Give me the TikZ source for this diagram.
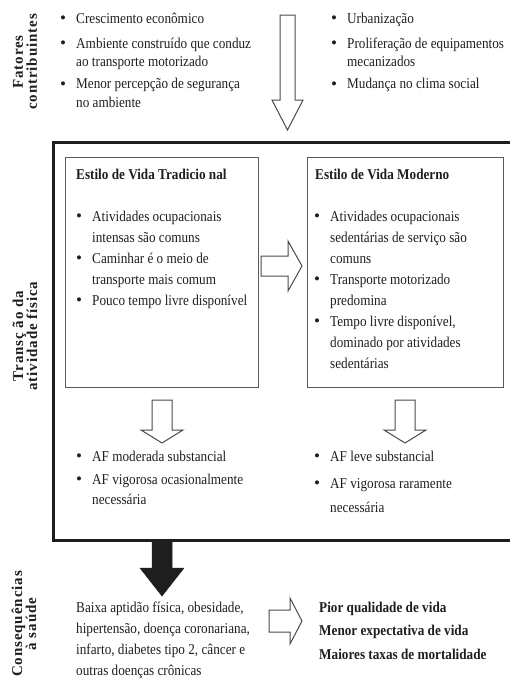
\documentclass[tikz,border=0pt]{standalone}
\usepackage{fontspec}
\setmainfont[FakeStretch=0.88]{Liberation Serif}
\newfontfamily\sidefont[LetterSpace=6]{Liberation Serif}
\newfontfamily\bulfont{Liberation Serif}
\definecolor{ink}{HTML}{1E1E1E}
\definecolor{lineg}{HTML}{4A4A4A}
\definecolor{boxg}{HTML}{5A5A5A}
\newenvironment{blist}{\begin{tabular}[t]{@{}p{16pt}@{}l@{}}}{\end{tabular}}
\newenvironment{plain}{\begin{tabular}[t]{@{}l@{}}}{\end{tabular}}
\newcommand\bul{{\bulfont\fontsize{17}{17}\selectfont\raisebox{-0.5pt}{\textbullet}}}
\tikzset{
  txt/.style={inner sep=0pt, anchor=base west, text=ink},
  sidelab/.style={inner sep=0pt, rotate=90, align=center, text=ink,
    font=\sidefont\bfseries\fontsize{15}{14}\selectfont},
  bigbox/.style={draw=ink, line width=3pt},
  innerbox/.style={draw=boxg, line width=0.9pt},
  hollow/.style={draw=lineg, line width=1pt, fill=white, line join=miter},
  solid/.style={fill=ink, draw=ink, line width=0.5pt},
}
\begin{document}
\begin{tikzpicture}[x=1pt,y=-1pt]
\useasboundingbox (0,0) rectangle (509,683);

% side labels
\node[sidelab] (lab1) at (25,62) {Fatores\\contribuintes};
\node[sidelab] (lab2) at (25,336) {Transç ão da\\atividade física};
\node[sidelab] (lab3) at (24,624) {Consequências\\à saúde};

% top factors
\node[txt, font=\fontsize{15}{18.5}\selectfont] (tl) at (60,23) {\begin{blist}
\bul & Crescimento econômico\\[6.5pt]
\bul & Ambiente construído que conduz\\
     & ao transporte motorizado\\[3.5pt]
\bul & Menor percepção de segurança\\
     & no ambiente
\end{blist}};
\node[txt, font=\fontsize{15}{18.5}\selectfont] (tr) at (331,23) {\begin{blist}
\bul & Urbanização\\[6.5pt]
\bul & Proliferação de equipamentos\\
     & mecanizados\\[3.5pt]
\bul & Mudança no clima social
\end{blist}};

% top hollow down arrow
\draw[hollow] (280,15) -- (295,15) -- (295,100) -- (303,100) -- (287.5,130)
  -- (272,100) -- (280,100) -- cycle;

% big frame
\draw[bigbox] (515,142) -- (53,142) -- (53,540) -- (515,540);

% inner boxes
\draw[innerbox] (65,157) rectangle (258,387);
\draw[innerbox] (307,157) rectangle (503,387);

\node[txt, font=\bfseries\fontsize{15}{20}\selectfont] (t1) at (76,179) {Estilo de Vida Tradicio nal};
\node[txt, font=\fontsize{15}{21}\selectfont] (l1) at (76,221) {\begin{blist}
\bul & Atividades ocupacionais\\
     & intensas são comuns\\
\bul & Caminhar é o meio de\\
     & transporte mais comum\\
\bul & Pouco tempo livre disponível
\end{blist}};

\node[txt, font=\bfseries\fontsize{15}{20}\selectfont] (t2) at (315,179) {Estilo de Vida Moderno};
\node[txt, font=\fontsize{15}{21}\selectfont] (l2) at (314,221) {\begin{blist}
\bul & Atividades ocupacionais\\
     & sedentárias de serviço são\\
     & comuns\\
\bul & Transporte motorizado\\
     & predomina\\
\bul & Tempo livre disponível,\\
     & dominado por atividades\\
     & sedentárias
\end{blist}};

% middle right arrow
\draw[hollow] (261,256) -- (288,256) -- (288,241) -- (302,266) -- (288,291)
  -- (288,276) -- (261,276) -- cycle;

% down arrows below boxes
\draw[hollow] (152,400) -- (172,400) -- (172,430) -- (183,430) -- (162,443)
  -- (141,430) -- (152,430) -- cycle;
\draw[hollow] (395,400) -- (415,400) -- (415,430) -- (426,430) -- (405,443)
  -- (384,430) -- (395,430) -- cycle;

\node[txt, font=\fontsize{15}{20.5}\selectfont] (pa1) at (76,461) {\begin{blist}
\bul & AF moderada substancial\\[2.5pt]
\bul & AF vigorosa ocasionalmente\\
     & necessária
\end{blist}};
\node[txt, font=\fontsize{15}{24}\selectfont] (pa2) at (314,461) {\begin{blist}
\bul & AF leve substancial\\[3pt]
\bul & AF vigorosa raramente\\
     & necessária
\end{blist}};

% black arrow
\draw[solid] (152,541) -- (172,541) -- (172,568) -- (184,568) -- (162,596)
  -- (140,568) -- (152,568) -- cycle;

% consequences
\node[txt, font=\fontsize{15}{21}\selectfont] (cons) at (76,612) {\begin{plain}
Baixa aptidão física, obesidade,\\hipertensão, doença coronariana,\\infarto, diabetes tipo 2, câncer e\\outras doenças crônicas
\end{plain}};

\draw[hollow] (269,610) -- (290,610) -- (290,598) -- (302,621) -- (290,644)
  -- (290,632) -- (269,632) -- cycle;

\node[txt, font=\bfseries\fontsize{15}{23.5}\selectfont] (res) at (319,612) {\begin{plain}
Pior qualidade de vida\\Menor expectativa de vida\\Maiores taxas de mortalidade
\end{plain}};
\end{tikzpicture}
\end{document}
